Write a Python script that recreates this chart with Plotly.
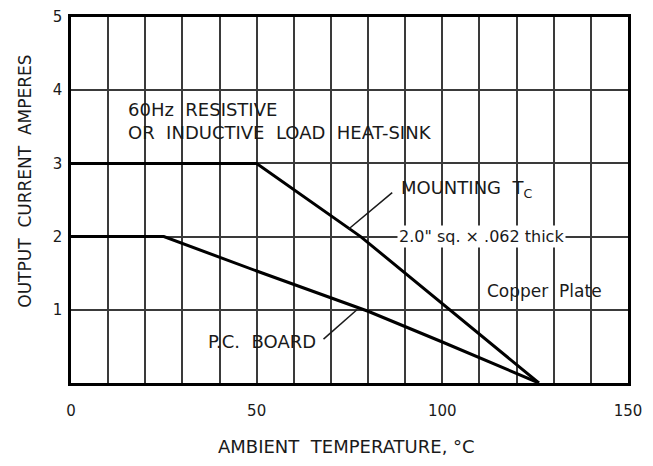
import plotly.graph_objects as go

# Data
heatsink_x = [0, 50, 78, 102, 126]
heatsink_y = [3, 3, 2, 1, 0]
pcboard_x = [0, 25, 50, 80, 100, 126]
pcboard_y = [2, 2, 1.53, 0.98, 0.56, 0]

x_tickvals = [0, 50, 100, 150]
x_ticktext = ["0", "50", "100", "150"]
y_tickvals = [1, 2, 3, 4, 5]
y_ticktext = ["1", "2", "3", "4", "5"]

FONT = "DejaVu Sans"
INK = "#1a1a1a"
GRID = "#3a3a3a"
SP = "\u00a0\u00a0"

fig = go.Figure()
fig.add_trace(go.Scatter(x=heatsink_x, y=heatsink_y, mode="lines",
                         line=dict(color="black", width=3), showlegend=False,
                         hoverinfo="skip"))
fig.add_trace(go.Scatter(x=pcboard_x, y=pcboard_y, mode="lines",
                         line=dict(color="black", width=3), showlegend=False,
                         hoverinfo="skip"))

common_axis = dict(showline=True, mirror=True, linecolor="black", linewidth=2.5,
                   showgrid=True, gridcolor=GRID, gridwidth=1.5,
                   zeroline=False, ticks="", fixedrange=True, automargin=False,
                   ticklabeloverflow="allow",
                   tickfont=dict(family=FONT, size=15, color=INK))

fig.update_xaxes(range=[0, 150], tickvals=x_tickvals, ticktext=x_ticktext,
                 ticklabelstandoff=12,
                 minor=dict(dtick=10, tick0=0, showgrid=True, gridcolor=GRID,
                            gridwidth=1.5, ticks=""),
                 **common_axis)
fig.update_yaxes(range=[0, 5], tickvals=y_tickvals, ticktext=y_ticktext,
                 ticklabelstandoff=3, **common_axis)

ann = []
ann.append(dict(x=14.8, y=3.58, xref="x", yref="y", xanchor="left", yanchor="middle",
                text="60Hz" + SP + "RESISTIVE<br>OR" + SP + "INDUCTIVE" + SP + "LOAD" + SP + "HEAT-SINK",
                align="left", showarrow=False, font=dict(family=FONT, size=18, color=INK)))
ann.append(dict(x=88.3, y=2.65, xref="x", yref="y", xanchor="left", yanchor="middle",
                text="MOUNTING" + SP + "T<sub>C</sub>", showarrow=False,
                font=dict(family=FONT, size=18, color=INK)))
ann.append(dict(x=87.8, y=2.0, xref="x", yref="y", xanchor="left", yanchor="middle",
                text="2.0\" sq. × .062 thick", showarrow=False, bgcolor="white",
                font=dict(family=FONT, size=16, color=INK)))
ann.append(dict(x=111.5, y=1.26, xref="x", yref="y", xanchor="left", yanchor="middle",
                text="Copper" + SP + "Plate", showarrow=False,
                font=dict(family=FONT, size=17, color=INK)))
ann.append(dict(x=36.3, y=0.57, xref="x", yref="y", xanchor="left", yanchor="middle",
                text="P.C." + SP + "BOARD", showarrow=False,
                font=dict(family=FONT, size=18, color=INK)))
# axis titles
ann.append(dict(x=0.495, y=0, xref="paper", yref="paper", yshift=-63,
                xanchor="center", yanchor="middle", showarrow=False,
                text="AMBIENT" + SP + "TEMPERATURE," + "\u00a0°C",
                font=dict(family=FONT, size=18, color=INK)))
ann.append(dict(x=0, y=0.55, xref="paper", yref="paper", xshift=-46,
                xanchor="center", yanchor="middle", showarrow=False, textangle=-90,
                text="OUTPUT" + SP + "CURRENT" + SP + "AMPERES",
                font=dict(family=FONT, size=17, color=INK)))

# pointer lines from labels to curves
shapes = [
    dict(type="line", xref="x", yref="y", x0=86.5, y0=2.6, x1=74.7, y1=2.1,
         line=dict(color=INK, width=1.5)),
    dict(type="line", xref="x", yref="y", x0=68.0, y0=0.6, x1=77.0, y1=1.0,
         line=dict(color=INK, width=1.5)),
]

fig.update_layout(width=637, height=450, autosize=False,
                  margin=dict(l=63, r=17, t=9, b=75),
                  paper_bgcolor="white", plot_bgcolor="white",
                  annotations=ann, shapes=shapes, showlegend=False)

fig.write_html("out.html", config={"displayModeBar": False})
